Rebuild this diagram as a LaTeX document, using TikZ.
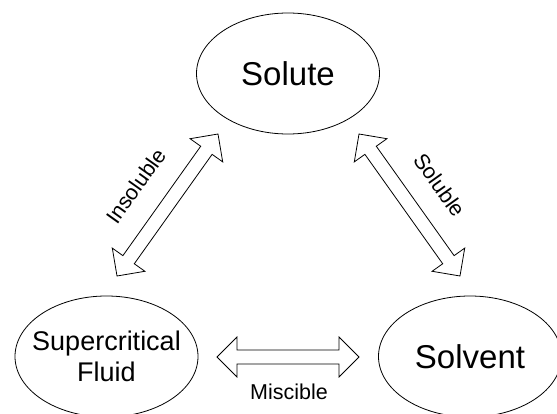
\documentclass[tikz,border=0pt]{standalone}
\usepackage{fontspec}
\setmainfont{Liberation Sans}
\usetikzlibrary{shapes.geometric,calc}
\tikzset{
  bubble/.style={ellipse, draw=black, line width=0.8pt, minimum width=183pt, minimum height=121pt, inner sep=0pt, align=center},
  big/.style={font=\fontsize{33}{38}\selectfont},
  mid/.style={font=\fontsize{27}{31}\selectfont, inner xsep=-12pt},
  lbl/.style={font=\fontsize{21.5}{24}\selectfont, inner sep=0pt},
  blk/.style={draw=black, line width=0.8pt, fill=white, line join=miter}
}
\newcommand\blockdbl[2]{%
  \coordinate (#1-h) at ($(#1)!20pt!(#2)$);
  \coordinate (#2-h) at ($(#2)!20pt!(#1)$);
  \draw[blk] (#1) -- ($(#1-h)!20pt!90:(#2)$) -- ($(#1-h)!7pt!90:(#2)$)
    -- ($(#2-h)!7pt!-90:(#1)$) -- ($(#2-h)!20pt!-90:(#1)$) -- (#2)
    -- ($(#2-h)!20pt!90:(#1)$) -- ($(#2-h)!7pt!90:(#1)$)
    -- ($(#1-h)!7pt!-90:(#2)$) -- ($(#1-h)!20pt!-90:(#2)$) -- cycle;}
\begin{document}
\begin{tikzpicture}[x=1pt,y=-1pt]
  \useasboundingbox (0,0) rectangle (557,414);
  \clip (0,0) rectangle (557,414);
  \fill[white] (0,0) rectangle (557,414);
  \node[bubble, big] (solute) at (288,73.5) {Solute};
  \node[bubble, mid] (scf) at (106.5,356.5) {Supercritical\\Fluid};
  \node[bubble, big] (solvent) at (470,356.5) {Solvent};
  % arrow end points
  \coordinate (ia) at (117,276);
  \coordinate (ib) at (218,134);
  \coordinate (sa) at (359,134);
  \coordinate (sb) at (460,276);
  \coordinate (ma) at (217,357);
  \coordinate (mb) at (359,357);
  \blockdbl{ia}{ib}
  \blockdbl{sa}{sb}
  \blockdbl{ma}{mb}
  \node[lbl, rotate=54.6] (insol) at (136,186) {Insoluble};
  \node[lbl, rotate=-54.6] (sol) at (439.5,185) {Soluble};
  \node[lbl] (misc) at (289,392) {Miscible};
\end{tikzpicture}
\end{document}
